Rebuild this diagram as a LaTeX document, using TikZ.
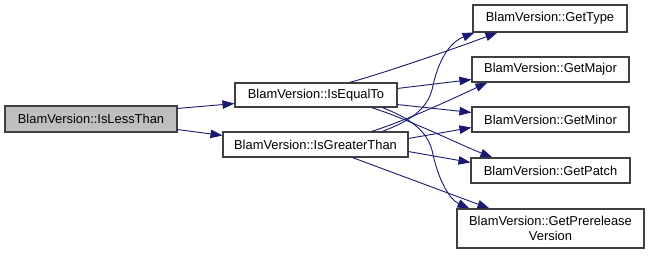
\documentclass[tikz,border=0pt]{standalone}
\usepackage{fontspec}
\setmainfont{Liberation Sans}
\usetikzlibrary{arrows.meta,calc}
\definecolor{edgeblue}{HTML}{191970}
\definecolor{boxborder}{HTML}{404040}
\definecolor{rootfill}{HTML}{BFBFBF}
\begin{document}
\begin{tikzpicture}[x=1pt,y=-1pt,
  fn/.style={draw=boxborder, line width=1.1pt, fill=white, rectangle, inner sep=0pt,
    font=\fontsize{12.9}{14.5}\selectfont, align=center},
  root/.style={fn, fill=rootfill},
  call/.style={draw=edgeblue, line width=0.9pt, -{Triangle[length=12pt,width=8.5pt]}}]
\useasboundingbox (0,0) rectangle (649,255);
% nodes
\node[root, minimum width=172pt, minimum height=26pt] (LT) at (91,119) {BlamVersion::IsLessThan};
\node[fn, minimum width=162pt, minimum height=24pt] (EQ) at (316,95) {BlamVersion::IsEqualTo};
\node[fn, minimum width=185pt, minimum height=25pt] (GT) at (315.5,144.5) {BlamVersion::IsGreaterThan};
\node[fn, minimum width=154pt, minimum height=27pt] (Type) at (550,18.5) {BlamVersion::GetType};
\node[fn, minimum width=157pt, minimum height=25pt] (Major) at (550.5,69.5) {BlamVersion::GetMajor};
\node[fn, minimum width=157pt, minimum height=25pt] (Minor) at (550.5,119.5) {BlamVersion::GetMinor};
\node[fn, minimum width=159pt, minimum height=25pt] (Patch) at (550.5,170.5) {BlamVersion::GetPatch};
\node[fn, minimum width=187pt, minimum height=39pt] (Pre) at (550.5,228.5) {BlamVersion::GetPrerelease\\Version};
% connectors
\draw[call] ($(LT.north east)+(0,3)$) -- ($(EQ.south west)+(0,-4)$);
\draw[call] ($(LT.south east)+(0,-3)$) -- ($(GT.north west)+(0,4)$);
% from IsEqualTo
\draw[call] ($(EQ.north west)+(115,0)$) .. controls +(30,-8) and +(-48,18) .. ($(Type.south west)+(25,0)$);
\draw[call] ($(EQ.north east)+(0,6)$) -- ($(Major.south west)+(0,-3)$);
\draw[call] ($(EQ.south east)+(0,-3)$) -- ($(Minor.north west)+(0,6)$);
\draw[call] ($(EQ.south west)+(137,0)$) .. controls +(38,12) and +(-33,-13) .. ($(Patch.north west)+(22,0)$);
\coordinate (eqpre) at (432,150);
\draw[call] ($(EQ.south west)+(148,0)$) .. controls +(17,7) and +(-7,-25) .. (eqpre)
  .. controls +(6,30) and +(-20,-9) .. ($(Pre.north west)+(13,0)$);
% from IsGreaterThan
\coordinate (gttype) at (432,90);
\draw[call] ($(GT.north west)+(160,0)$) .. controls +(17,-7) and +(-7,25) .. (gttype)
  .. controls +(6,-30) and +(-25,10) .. ($(Type.south west)+(2,0)$);
\draw[call] ($(GT.north west)+(149,0)$) .. controls +(38,-12) and +(-28,13) .. ($(Major.south west)+(16,0)$);
\draw[call] ($(GT.north east)+(0,7)$) -- ($(Minor.south west)+(0,-5)$);
\draw[call] ($(GT.south east)+(0,-6)$) -- ($(Patch.north west)+(0,5)$);
\draw[call] ($(GT.south west)+(130,0)$) -- ($(Pre.north west)+(33,0)$);
\end{tikzpicture}
\end{document}
